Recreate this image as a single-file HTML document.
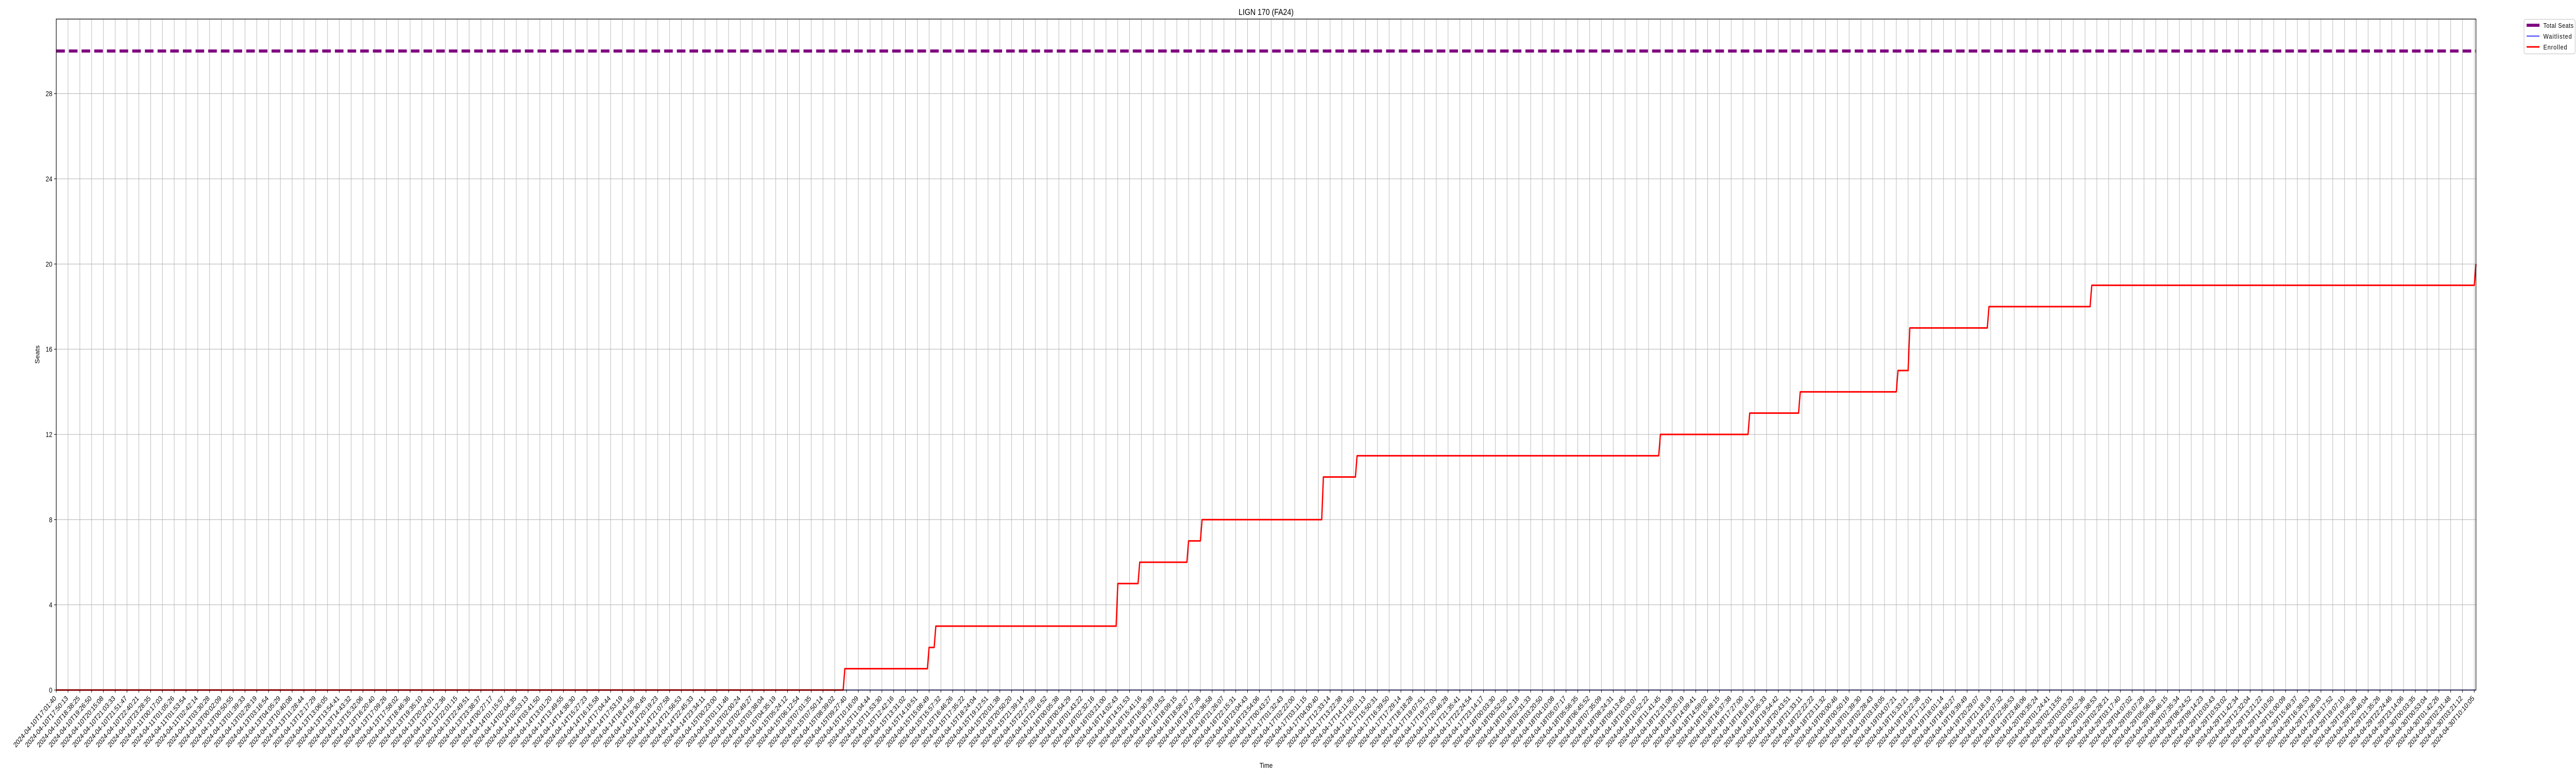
<!DOCTYPE html>
<html>
<head>
<meta charset="utf-8">
<style>
  html, body { margin: 0; padding: 0; background: #ffffff; width: 100%; height: 100%; overflow: hidden; }
  svg { display: block; position: fixed; left: 0; top: 0; width: 100vw; height: 100vh; overflow: hidden; font-family: "Liberation Sans", "DejaVu Sans", sans-serif; }
</style>
</head>
<body>
<svg id="chart" xmlns="http://www.w3.org/2000/svg" viewBox="0 0 6000 1500" preserveAspectRatio="none">
  <rect x="0" y="0" width="6000" height="1500" fill="#ffffff"/>
  <g id="grid"></g>
  <g id="series"></g>
  <g id="axes"></g>
  <text x="2949" y="29" font-size="17" text-anchor="middle" fill="#000">LIGN 170 (FA24)</text>
  <text x="2949" y="1490" font-size="14" text-anchor="middle" fill="#000">Time</text>
  <text transform="translate(92,688) rotate(-90)" font-size="14" text-anchor="middle" fill="#000">Seats</text>
  <g>
    <rect x="5879" y="37.5" width="119" height="67" rx="4" ry="4" fill="#ffffff" fill-opacity="0.8" stroke="#cccccc" stroke-width="1.3"/>
    <g>
      <line x1="5885" y1="49" x2="5915" y2="49" stroke="#800080" stroke-width="6"/>
      <text x="5924" y="54" font-size="13" textLength="70" fill="#000">Total Seats</text>
    </g>
    <g>
      <line x1="5885" y1="70" x2="5915" y2="70" stroke="#0000ff" stroke-width="1.5"/>
      <text x="5924" y="75" font-size="13" textLength="66" fill="#000">Waitlisted</text>
    </g>
    <g>
      <line x1="5885" y1="91" x2="5915" y2="91" stroke="#ff0000" stroke-width="3"/>
      <text x="5924" y="96" font-size="13" textLength="55" fill="#000">Enrolled</text>
    </g>
  </g>
</svg>
<script>
// ---- data ----
const lastIndex = 1436;               // data points 0..1436
const tickEvery = 7;                  // a tick every 7 points
const totalSeats = 30;
const enrolledStepIndex = [0, 468, 518, 522, 630, 643, 672, 680, 752, 772, 952, 1005, 1035, 1093, 1100, 1147, 1208, 1436];
const enrolledStepValue = [0, 1, 2, 3, 5, 6, 7, 8, 10, 11, 12, 13, 14, 15, 17, 18, 19, 20];
const waitlistStepIndex = [0];
const waitlistStepValue = [0];
const yTicks = [0, 4, 8, 12, 16, 20, 24, 28];
const tickLabels = [
"10T17:01:40","10T17:50:13","10T18:38:25","10T19:26:50","10T20:15:08","10T21:03:33","10T21:51:47","10T22:40:21","10T23:28:35","11T00:17:03",
"11T01:05:26","11T01:53:54","11T02:42:14","11T03:30:28","13T00:02:09","13T00:50:55","13T01:39:33","13T02:28:19","13T03:16:54","13T04:05:29",
"13T10:40:08","13T11:28:44","13T12:17:29","13T13:06:05","13T13:54:41","13T14:43:32","13T15:32:06","13T16:20:40","13T17:09:26","13T17:58:02",
"13T18:46:36","13T19:35:10","13T20:24:01","13T21:12:36","13T22:01:15","13T22:49:51","13T23:38:37","14T00:27:17","14T01:15:57","14T02:04:35",
"14T02:53:13","14T03:41:50","14T13:01:20","14T13:49:55","14T14:38:30","14T15:27:23","14T16:15:58","14T17:04:44","14T17:53:19","14T18:41:56",
"14T19:30:45","14T20:19:23","14T21:07:58","14T21:56:53","14T22:45:33","14T23:34:11","15T00:23:00","15T01:11:46","15T02:00:24","15T02:49:27",
"15T03:38:04","15T04:35:19","15T05:24:12","15T06:12:54","15T07:01:35","15T07:50:14","15T08:39:02","15T09:27:40","15T10:16:09","15T11:04:44",
"15T11:53:30","15T12:42:16","15T13:31:02","15T14:19:51","15T15:08:49","15T15:57:32","15T16:46:26","15T17:35:22","15T18:24:04","15T19:12:51",
"15T20:01:38","15T20:50:20","15T21:39:14","15T22:27:59","15T23:16:52","16T00:05:38","16T00:54:29","16T01:43:22","16T02:32:16","16T03:21:00",
"16T14:02:43","16T14:51:53","16T15:41:16","16T16:30:39","16T17:19:52","16T18:09:15","16T18:58:27","16T19:47:38","16T20:36:58","16T21:26:07",
"16T22:15:31","16T23:04:43","16T23:54:06","17T00:43:27","17T01:32:43","17T02:22:00","17T03:11:15","17T04:00:40","17T12:33:14","17T13:22:38",
"17T14:11:50","17T15:01:13","17T15:50:31","17T16:39:50","17T17:29:14","17T18:18:28","17T19:07:51","17T19:57:03","17T20:46:28","17T21:35:41",
"17T22:24:54","17T23:14:17","18T00:03:30","18T00:52:50","18T01:42:18","18T02:31:33","18T03:20:50","18T04:10:08","18T05:07:17","18T05:56:35",
"18T06:45:52","18T07:35:09","18T08:24:31","18T09:13:45","18T10:03:07","18T10:52:22","18T11:41:45","18T12:31:08","18T13:20:19","18T14:09:41",
"18T14:59:02","18T15:48:15","18T16:37:38","18T17:27:00","18T18:16:12","18T19:05:33","18T19:54:42","18T20:43:51","18T21:33:11","18T22:22:22",
"18T23:11:32","19T00:00:46","19T00:50:16","19T01:39:30","19T02:28:43","19T03:18:05","19T04:07:21","19T15:33:21","19T16:22:38","19T17:12:01",
"19T18:01:14","19T18:50:27","19T19:39:49","19T20:29:07","19T21:18:19","19T22:07:32","19T22:56:53","19T23:46:06","20T00:35:24","20T01:24:41",
"20T02:13:55","20T03:03:20","20T03:52:36","29T01:38:53","29T02:28:21","29T03:17:40","29T04:07:02","29T05:07:28","29T05:56:52","29T06:46:15",
"29T07:35:34","29T08:24:52","29T09:14:23","29T10:03:43","29T10:53:02","29T11:42:34","29T12:32:04","29T13:21:22","29T14:10:50","29T15:00:09",
"29T15:49:37","29T16:38:53","29T17:28:33","29T18:17:52","29T19:07:10","29T19:56:28","29T20:46:04","29T21:35:26","29T22:24:46","29T23:14:06",
"30T00:03:35","30T00:53:04","30T01:42:26","30T02:31:48","30T03:21:12","30T10:10:05"
];
const yMax = 31.5;

// ---- layout ----
const NS = "http://www.w3.org/2000/svg";
const L = 131, R = 5767, T = 37, B = 1339;
function xS(i) { return L + i * (R - L) / lastIndex; }
function yS(v) { return B - v * (B - T) / yMax; }
function mk(tag, attrs, parent) {
  const e = document.createElementNS(NS, tag);
  for (const k in attrs) e.setAttribute(k, attrs[k]);
  parent.appendChild(e);
  return e;
}
function expand(idx, val) {
  const out = [];
  let s = 0;
  for (let i = 0; i <= lastIndex; i++) {
    while (s + 1 < idx.length && idx[s + 1] <= i) s++;
    out.push(val[s]);
  }
  return out;
}
const grid = document.getElementById('grid');
const series = document.getElementById('series');
const axes = document.getElementById('axes');

// grid + x ticks
tickLabels.forEach((lab, k) => {
  const x = xS(k * tickEvery);
  const g = mk('line', {x1: x, y1: T, x2: x, y2: B, stroke: '#b0b0b0', 'stroke-width': 1}, grid);
  
  
  const t = mk('line', {x1: x, y1: B, x2: x, y2: B + 5, stroke: '#000', 'stroke-width': 1.1}, axes);
  
  
  const tx = mk('text', {transform: 'translate(' + (x + 1) + ',' + (B + 17) + ') rotate(-45)', 'font-size': 14, 'text-anchor': 'end', fill: '#000'}, axes);
  tx.textContent = '2024-04-' + lab;
  
  
});
// y grid + ticks
yTicks.forEach(v => {
  const y = yS(v);
  const g = mk('line', {x1: L, y1: y, x2: R, y2: y, stroke: '#b0b0b0', 'stroke-width': 1}, grid);
  
  
  const t = mk('line', {x1: L - 5, y1: y, x2: L, y2: y, stroke: '#000', 'stroke-width': 1.1}, axes);
  
  
  const tx = mk('text', {x: L - 9, y: y + 5, 'font-size': 14, 'text-anchor': 'end', fill: '#000'}, axes);
  tx.textContent = String(v);
  
  
});

// total seats
const ts = mk('line', {x1: xS(0), y1: yS(totalSeats), x2: xS(lastIndex), y2: yS(totalSeats), stroke: '#800080', 'stroke-width': 6, 'stroke-dasharray': '20,9.5'}, series);



// waitlisted
const wv = expand(waitlistStepIndex, waitlistStepValue);
const wl = mk('polyline', {points: wv.map((v, i) => xS(i).toFixed(2) + ',' + yS(v).toFixed(2)).join(' '), fill: 'none', stroke: '#0000ff', 'stroke-width': 1.5}, series);



// enrolled
const ev = expand(enrolledStepIndex, enrolledStepValue);
const en = mk('polyline', {points: ev.map((v, i) => xS(i).toFixed(2) + ',' + yS(v).toFixed(2)).join(' '), fill: 'none', stroke: '#ff0000', 'stroke-width': 3, 'stroke-linejoin': 'round'}, series);



// frame
const fr = mk('rect', {x: L, y: T, width: R - L, height: B - T, fill: 'none', stroke: '#000', 'stroke-width': 1.3}, axes);


</script>
</body>
</html>
